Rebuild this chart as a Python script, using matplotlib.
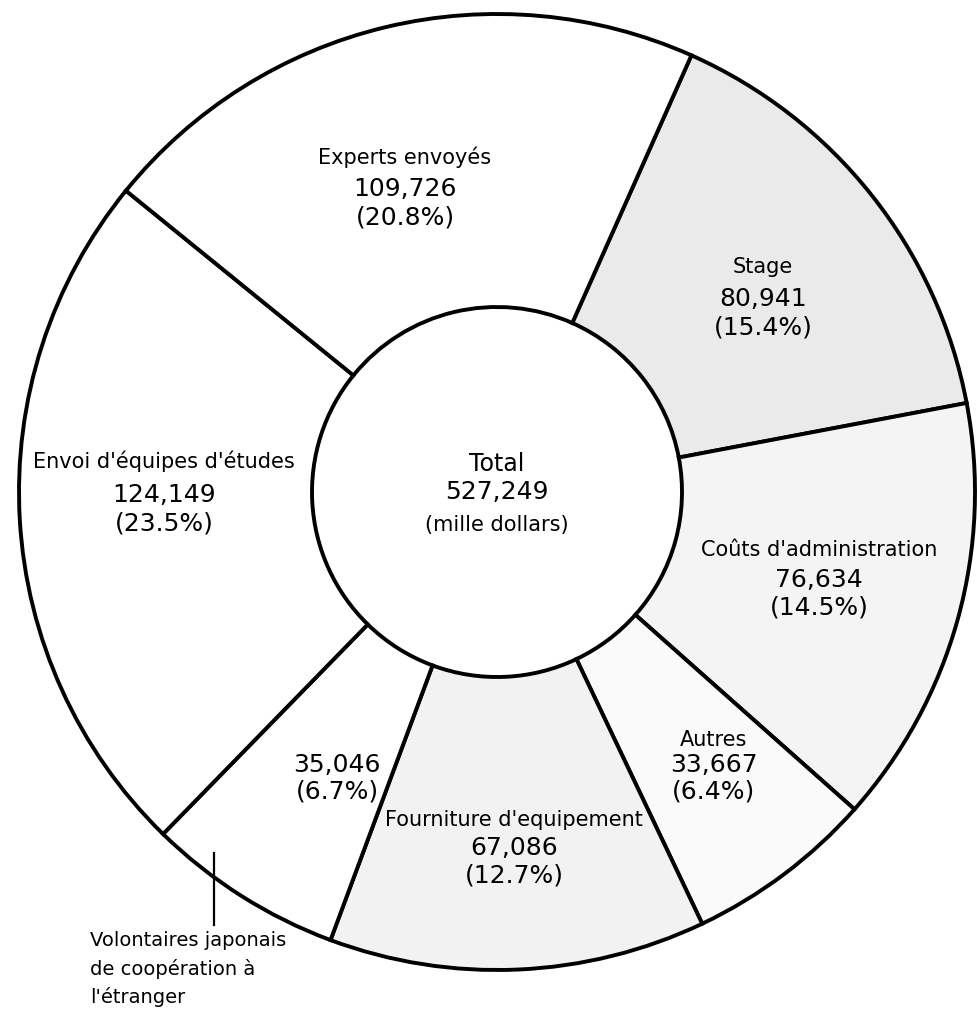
import matplotlib.pyplot as plt

# valeurs (mille dollars), dans l'ordre horaire a partir de "Stage"
labels = ["Stage", "Coûts d'administration", "Autres", "Fourniture d'equipement",
          "Volontaires japonais de coopération à l'étranger", "Envoi d'équipes d'études",
          "Experts envoyés"]
values = [80941, 76634, 33667, 67086, 35046, 124149, 109726]
shares = ["15.4%", "14.5%", "6.4%", "12.7%", "6.7%", "23.5%", "20.8%"]
total = 527249
fills = ["#eaeaea", "#f4f4f4", "#fafafa", "#f2f2f2", "#ffffff", "#ffffff", "#ffffff"]

W, H = 978, 1010
fig = plt.figure(figsize=(W / 100, H / 100), dpi=100)
ax = fig.add_axes([0, 0, 1, 1])

cx, cy = 497, H - 492
R = 478
r_in = 185

ax.pie(values, colors=fills, startangle=66, counterclock=False,
       center=(cx, cy), radius=R,
       wedgeprops=dict(width=R - r_in, edgecolor="black", linewidth=2.8))
ax.set_xlim(0, W)
ax.set_ylim(0, H)
ax.set_aspect("equal")
ax.axis("off")


def fmt(v):
    return f"{v:,}"


def block(x, ys, name, i):
    # ys : centres des lignes, en pixels depuis le haut de l'image
    y_name, y_num, y_pct = ys
    if name:
        ax.text(x, H - y_name, name, ha="center", va="center", fontsize=15)
    ax.text(x, H - y_num, fmt(values[i]), ha="center", va="center", fontsize=18)
    ax.text(x, H - y_pct, f"({shares[i]})", ha="center", va="center", fontsize=18)


block(405, (157, 189, 217), labels[6], 6)
block(763, (267, 299, 328), labels[0], 0)
block(164, (461, 495, 523), labels[5], 5)
block(819, (550, 580, 607), labels[1], 1)
block(714, (740, 765, 792), labels[2], 2)
block(337, (0, 765, 792), None, 4)
block(514, (820, 848, 875), labels[3], 3)

ax.text(cx, H - 464, "Total", ha="center", va="center", fontsize=17)
ax.text(cx, H - 492, fmt(total), ha="center", va="center", fontsize=18)
ax.text(cx, H - 525, "(mille dollars)", ha="center", va="center", fontsize=15)

ax.plot([214, 214], [H - 853, H - 925], color="black", linewidth=1.6)
for k, line in enumerate(["Volontaires japonais", "de coopération à", "l'étranger"]):
    ax.text(90, H - (941 + 28 * k), line, ha="left", va="center", fontsize=14)

fig.savefig("out.png", dpi=100)
